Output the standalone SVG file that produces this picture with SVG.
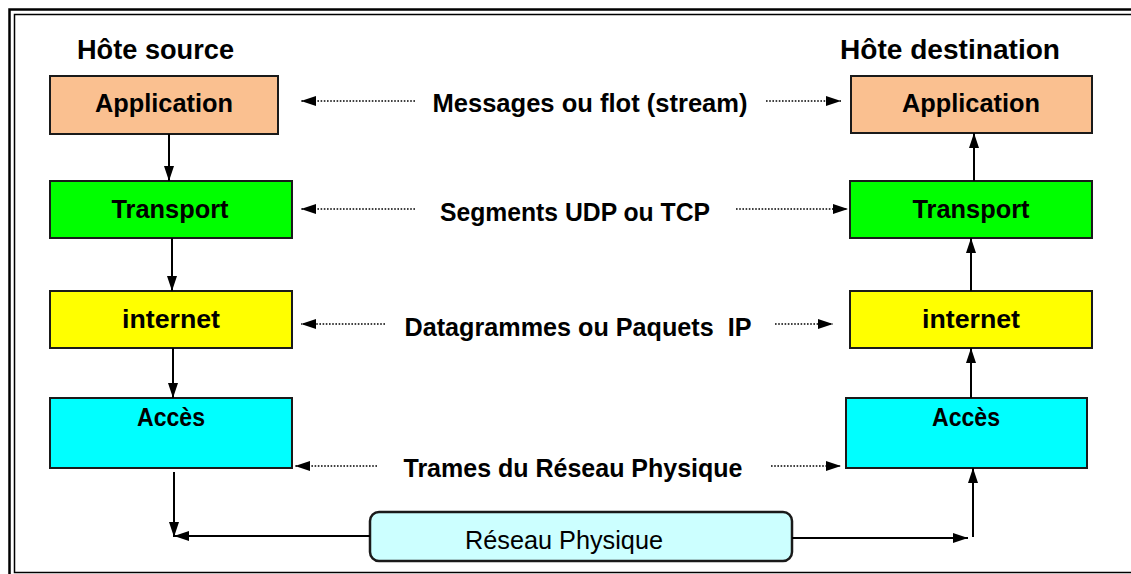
<svg xmlns="http://www.w3.org/2000/svg" width="1131" height="574" viewBox="0 0 1131 574">
  <style>
    .box { stroke: #1a1a1a; stroke-width: 2; }
    .lbl { font-family: "Liberation Sans", Arial, sans-serif; font-weight: bold; font-size: 25px; fill: #000; text-anchor: middle; }
    .ttl { font-family: "Liberation Sans", Arial, sans-serif; font-weight: bold; font-size: 27px; fill: #000; }
    .solid { stroke: #000; stroke-width: 2; fill: none; }
    .dot { stroke: #000; stroke-width: 1.6; fill: none; stroke-dasharray: 1.6 1.6; }
  </style>
  <defs>
    <marker id="ah" viewBox="0 0 15 10" refX="15" refY="5" markerWidth="15" markerHeight="10" markerUnits="userSpaceOnUse" orient="auto">
      <path d="M0,0 L15,5 L0,10 Z" fill="#000"/>
    </marker>
  </defs>

  <rect width="1131" height="574" fill="#fff"/>

  <!-- double frame -->
  <g id="frame" fill="none">
    <rect x="9.5" y="9.5" width="1140" height="580" stroke="#000" stroke-width="2.5"/>
    <rect x="14.5" y="14.5" width="1130" height="558" stroke="#000" stroke-width="1.5"/>
  </g>

  <!-- host titles -->
  <text class="ttl" x="77" y="59" textLength="157" lengthAdjust="spacingAndGlyphs">Hôte source</text>
  <text class="ttl" x="840" y="59" textLength="220" lengthAdjust="spacingAndGlyphs">Hôte destination</text>

  <!-- source host stack -->
  <g id="src-application">
    <rect class="box" x="50" y="76" width="228" height="58" fill="#fac090"/>
    <text class="lbl" x="164" y="112" textLength="138" lengthAdjust="spacingAndGlyphs">Application</text>
  </g>
  <g id="src-transport">
    <rect class="box" x="50" y="181" width="242" height="57" fill="#00ff00"/>
    <text class="lbl" x="170" y="218" textLength="117" lengthAdjust="spacingAndGlyphs">Transport</text>
  </g>
  <g id="src-internet">
    <rect class="box" x="50" y="291" width="242" height="57" fill="#ffff00"/>
    <text class="lbl" x="171" y="328" textLength="98" lengthAdjust="spacingAndGlyphs">internet</text>
  </g>
  <g id="src-acces">
    <rect class="box" x="50" y="398" width="242" height="70" fill="#00ffff"/>
    <text class="lbl" x="171" y="426" textLength="68" lengthAdjust="spacingAndGlyphs">Accès</text>
  </g>

  <!-- destination host stack -->
  <g id="dst-application">
    <rect class="box" x="851" y="76" width="241" height="57" fill="#fac090"/>
    <text class="lbl" x="971" y="112" textLength="138" lengthAdjust="spacingAndGlyphs">Application</text>
  </g>
  <g id="dst-transport">
    <rect class="box" x="850" y="181" width="242" height="57" fill="#00ff00"/>
    <text class="lbl" x="971" y="218" textLength="117" lengthAdjust="spacingAndGlyphs">Transport</text>
  </g>
  <g id="dst-internet">
    <rect class="box" x="850" y="291" width="242" height="57" fill="#ffff00"/>
    <text class="lbl" x="971" y="328" textLength="98" lengthAdjust="spacingAndGlyphs">internet</text>
  </g>
  <g id="dst-acces">
    <rect class="box" x="846" y="398" width="241" height="70" fill="#00ffff"/>
    <text class="lbl" x="966" y="426" textLength="68" lengthAdjust="spacingAndGlyphs">Accès</text>
  </g>

  <!-- physical network -->
  <g id="reseau-physique">
    <rect x="370" y="512" width="422" height="49" rx="9" ry="9" fill="#ccffff" stroke="#1a1a1a" stroke-width="2.5"/>
    <text x="564" y="549" font-family="'Liberation Sans', Arial, sans-serif" font-size="25" text-anchor="middle" fill="#000" textLength="198" lengthAdjust="spacingAndGlyphs">Réseau Physique</text>
  </g>

  <!-- peer-to-peer unit labels -->
  <g id="peer-labels">
    <text class="lbl" x="590" y="112" textLength="315" lengthAdjust="spacingAndGlyphs">Messages ou flot (stream)</text>
    <text class="lbl" x="575" y="221" textLength="270" lengthAdjust="spacingAndGlyphs">Segments UDP ou TCP</text>
    <text class="lbl" x="578" y="336" textLength="347" lengthAdjust="spacingAndGlyphs" xml:space="preserve">Datagrammes ou Paquets  IP</text>
    <text class="lbl" x="573" y="477" textLength="339" lengthAdjust="spacingAndGlyphs">Trames du Réseau Physique</text>
  </g>

  <g id="connectors">
    <!-- source: downward through the stack -->
    <line class="solid" x1="169" y1="134" x2="169" y2="181" marker-end="url(#ah)"/>
    <line class="solid" x1="172" y1="238" x2="172" y2="291" marker-end="url(#ah)"/>
    <line class="solid" x1="173" y1="348" x2="173" y2="398" marker-end="url(#ah)"/>
    <line class="solid" x1="174" y1="472" x2="174" y2="537" marker-end="url(#ah)"/>
    <line class="solid" x1="370" y1="536" x2="174" y2="536" marker-end="url(#ah)"/>

    <!-- destination: upward through the stack -->
    <line class="solid" x1="792" y1="538" x2="968" y2="538" marker-end="url(#ah)"/>
    <line class="solid" x1="973" y1="537" x2="973" y2="468" marker-end="url(#ah)"/>
    <line class="solid" x1="971" y1="398" x2="971" y2="348" marker-end="url(#ah)"/>
    <line class="solid" x1="971" y1="291" x2="971" y2="238" marker-end="url(#ah)"/>
    <line class="solid" x1="974" y1="181" x2="974" y2="133" marker-end="url(#ah)"/>

    <!-- dotted peer exchanges -->
    <line class="dot" x1="415" y1="101" x2="301" y2="101" marker-end="url(#ah)"/>
    <line class="dot" x1="766" y1="101" x2="841" y2="101" marker-end="url(#ah)"/>
    <line class="dot" x1="415" y1="209" x2="301" y2="209" marker-end="url(#ah)"/>
    <line class="dot" x1="736" y1="209" x2="848" y2="209" marker-end="url(#ah)"/>
    <line class="dot" x1="385" y1="324" x2="301" y2="324" marker-end="url(#ah)"/>
    <line class="dot" x1="775" y1="324" x2="833" y2="324" marker-end="url(#ah)"/>
    <line class="dot" x1="377" y1="466" x2="295" y2="466" marker-end="url(#ah)"/>
    <line class="dot" x1="771" y1="466" x2="841" y2="466" marker-end="url(#ah)"/>
  </g>
</svg>
